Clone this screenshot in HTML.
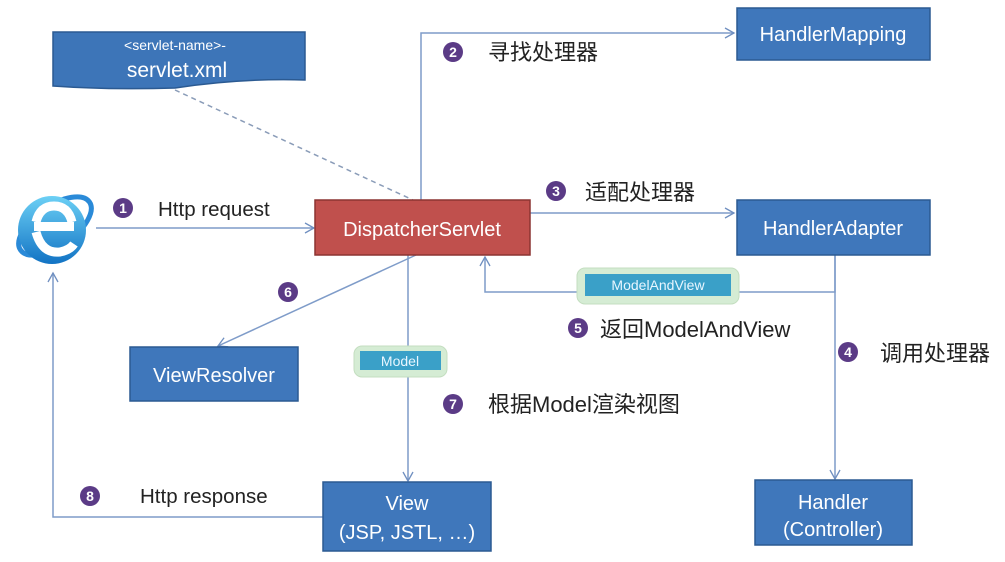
<!DOCTYPE html>
<html><head><meta charset="utf-8"><style>
html,body{margin:0;padding:0;background:#fff;}
svg{display:block;}
text{font-family:"Liberation Sans","Noto Sans CJK SC",sans-serif;}
</style></head><body>
<svg width="1005" height="562" viewBox="0 0 1005 562" xmlns="http://www.w3.org/2000/svg">
<defs>
<marker id="a" markerWidth="12" markerHeight="12" refX="10" refY="6" orient="auto" markerUnits="userSpaceOnUse">
<path d="M1,1 L10,6 L1,11" fill="none" stroke="#6f8fc0" stroke-width="1.3"/>
</marker>
<linearGradient id="ie" x1="0" y1="0" x2="0" y2="1"><stop offset="0" stop-color="#6cd0f5"/><stop offset="1" stop-color="#1273c4"/></linearGradient>
</defs>
<g stroke="#7f9cc9" stroke-width="1.5" fill="none">
<line x1="96" y1="228" x2="314" y2="228" marker-end="url(#a)"/>
<polyline points="421,200 421,33 734,33" marker-end="url(#a)"/>
<line x1="530" y1="213" x2="734" y2="213" marker-end="url(#a)"/>
<polyline points="835,255 835,292 485,292 485,257" marker-end="url(#a)"/>
<line x1="835" y1="255" x2="835" y2="479" marker-end="url(#a)"/>
<line x1="416" y1="255" x2="218" y2="346" marker-end="url(#a)"/>
<line x1="408" y1="255" x2="408" y2="481" marker-end="url(#a)"/>
<polyline points="323,517 53,517 53,273" marker-end="url(#a)"/>
<line x1="175" y1="90" x2="413" y2="200" stroke="#8a9cb8" stroke-dasharray="5,4"/>
</g>
<path d="M53,32 H305 V80 Q240,78 175,88 Q110,90 53,86 Z" fill="#3d75b8" stroke="#2b5a92" stroke-width="1.5"/>
<text x="175" y="50" font-size="14" fill="#fff" text-anchor="middle">&lt;servlet-name&gt;-</text>
<text x="177" y="77" font-size="21" fill="#fff" text-anchor="middle">servlet.xml</text>
<g stroke="#2b5a92" stroke-width="1.5" fill="#3f77bb">
<rect x="737" y="8" width="193" height="52"/>
<rect x="737" y="200" width="193" height="55"/>
<rect x="130" y="347" width="168" height="54"/>
<rect x="323" y="482" width="168" height="69"/>
<rect x="755" y="480" width="157" height="65"/>
</g>
<rect x="315" y="200" width="215" height="55" fill="#c0504d" stroke="#8c3432" stroke-width="1.5"/>
<g fill="#fff" font-size="20" text-anchor="middle">
<text x="833" y="41">HandlerMapping</text>
<text x="833" y="235">HandlerAdapter</text>
<text x="422" y="236">DispatcherServlet</text>
<text x="214" y="382">ViewResolver</text>
<text x="407" y="510">View</text>
<text x="407" y="539">(JSP, JSTL, …)</text>
<text x="833" y="509">Handler</text>
<text x="833" y="536">(Controller)</text>
</g>
<rect x="577" y="268" width="162" height="36" rx="8" fill="#d5ecd4" stroke="#c4dec0"/>
<rect x="585" y="274" width="146" height="22" fill="#3aa0c8"/>
<text x="658" y="290" font-size="14" fill="#e8f6ff" text-anchor="middle">ModelAndView</text>
<rect x="354" y="346" width="93" height="31" rx="8" fill="#d5ecd4" stroke="#c4dec0"/>
<rect x="360" y="351" width="81" height="19" fill="#3aa0c8"/>
<text x="400" y="366" font-size="14" fill="#e8f6ff" text-anchor="middle">Model</text>
<ellipse cx="55" cy="226" rx="42" ry="20" transform="rotate(-35 55 226)" fill="none" stroke="#2a8ad8" stroke-width="5"/>
<circle cx="52" cy="230" r="34" fill="url(#ie)"/>
<rect x="34" y="222" width="40" height="9" fill="#fff"/>
<path d="M36,222 Q40,206 54,206 Q68,206 72,222" fill="none" stroke="#fff" stroke-width="9"/>
<path d="M36,232 Q42,254 60,252 Q70,250 74,244" fill="none" stroke="#fff" stroke-width="9"/>
<g fill="#5b3b86">
<circle cx="123" cy="208" r="10"/><circle cx="453" cy="52" r="10"/><circle cx="556" cy="191" r="10"/>
<circle cx="848" cy="352" r="10"/><circle cx="578" cy="328" r="10"/><circle cx="288" cy="292" r="10"/>
<circle cx="453" cy="404" r="10"/><circle cx="90" cy="496" r="10"/>
</g>
<g fill="#fff" font-size="14" font-weight="bold" text-anchor="middle">
<text x="123" y="213">1</text><text x="453" y="57">2</text><text x="556" y="196">3</text>
<text x="848" y="357">4</text><text x="578" y="333">5</text><text x="288" y="297">6</text>
<text x="453" y="409">7</text><text x="90" y="501">8</text>
</g>
<g fill="#222" font-size="22">
<text x="158" y="216" font-size="20.5">Http request</text>
<text x="488" y="60">寻找处理器</text>
<text x="585" y="200">适配处理器</text>
<text x="880" y="361">调用处理器</text>
<text x="600" y="337">返回ModelAndView</text>
<text x="488" y="412">根据Model渲染视图</text>
<text x="140" y="503" font-size="20.5">Http response</text>
</g>
</svg>
</body></html>
